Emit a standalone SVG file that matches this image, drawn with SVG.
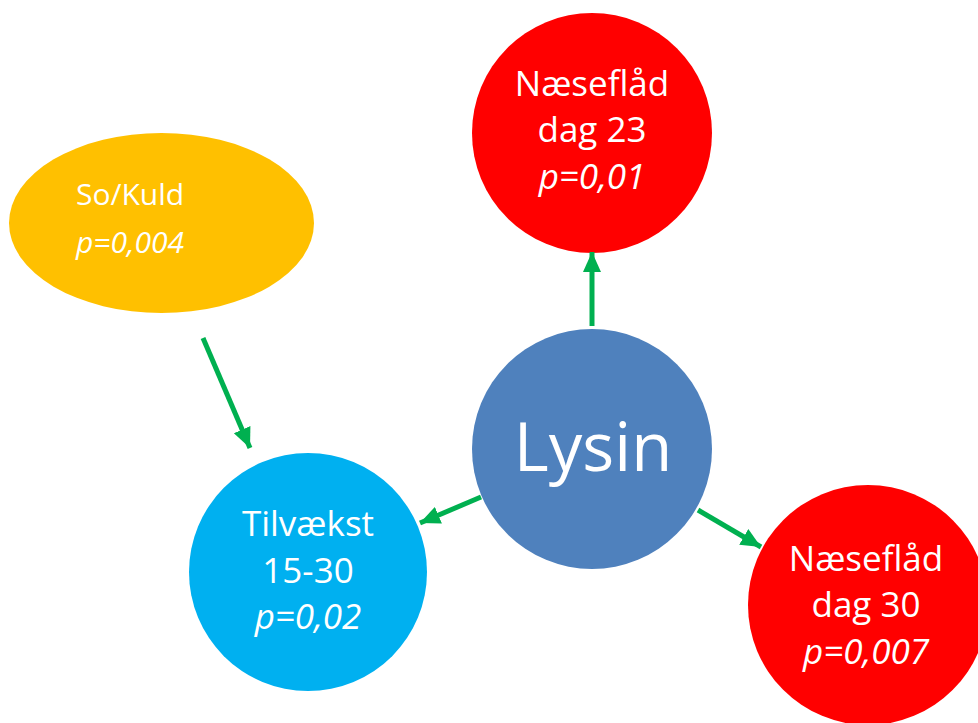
<svg xmlns="http://www.w3.org/2000/svg" width="978" height="723" viewBox="0 0 978 723">
  <style>
    .t { font-family: "Open Sans", "Noto Sans", sans-serif; fill: #ffffff; font-size: 35px; }
    .c { text-anchor: middle; }
    .i { font-style: italic; }
    .s { font-size: 30px; }
    .big { font-size: 67px; }
    .conn { stroke: #00B050; stroke-width: 5; fill: none; }
  </style>
  <defs>
    <marker id="ah" markerUnits="userSpaceOnUse" markerWidth="22" markerHeight="22" viewBox="0 0 22 22" refX="20" refY="11" orient="auto">
      <path d="M0,2 L20,11 L0,20 Z" fill="#00B050"/>
    </marker>
  </defs>
  <rect width="978" height="723" fill="#ffffff"/>

  <g id="so-kuld">
    <ellipse cx="161.5" cy="223" rx="152.5" ry="90" fill="#FFC000"/>
    <text class="t s" x="76" y="205">So/Kuld</text>
    <text class="t s i" x="76" y="253">p=0,004</text>
  </g>

  <g id="naeseflaad-23">
    <circle cx="592" cy="133" r="120" fill="#FF0000"/>
    <text class="t c" x="592" y="96">Næseflåd</text>
    <text class="t c" x="592" y="142">dag 23</text>
    <text class="t c i" x="592" y="189">p=0,01</text>
  </g>

  <g id="lysin">
    <circle cx="592" cy="449" r="120" fill="#4F81BD"/>
    <text class="t c big" x="593" y="471">Lysin</text>
  </g>

  <g id="tilvaekst">
    <circle cx="308" cy="572" r="119" fill="#00B0F0"/>
    <text class="t c" x="308" y="536">Tilvækst</text>
    <text class="t c" x="308" y="583">15-30</text>
    <text class="t c i" x="308" y="629">p=0,02</text>
  </g>

  <g id="naeseflaad-30">
    <circle cx="868" cy="605" r="120" fill="#FF0000"/>
    <text class="t c" x="866" y="571">Næseflåd</text>
    <text class="t c" x="866" y="617">dag 30</text>
    <text class="t c i" x="866" y="664">p=0,007</text>
  </g>

  <g id="connectors">
    <line class="conn" x1="203" y1="338" x2="250" y2="448" marker-end="url(#ah)"/>
    <line class="conn" x1="481" y1="497" x2="420" y2="523" marker-end="url(#ah)"/>
    <line class="conn" x1="592" y1="326" x2="592" y2="252" marker-end="url(#ah)"/>
    <line class="conn" x1="698" y1="510" x2="761" y2="547" marker-end="url(#ah)"/>
  </g>
</svg>
